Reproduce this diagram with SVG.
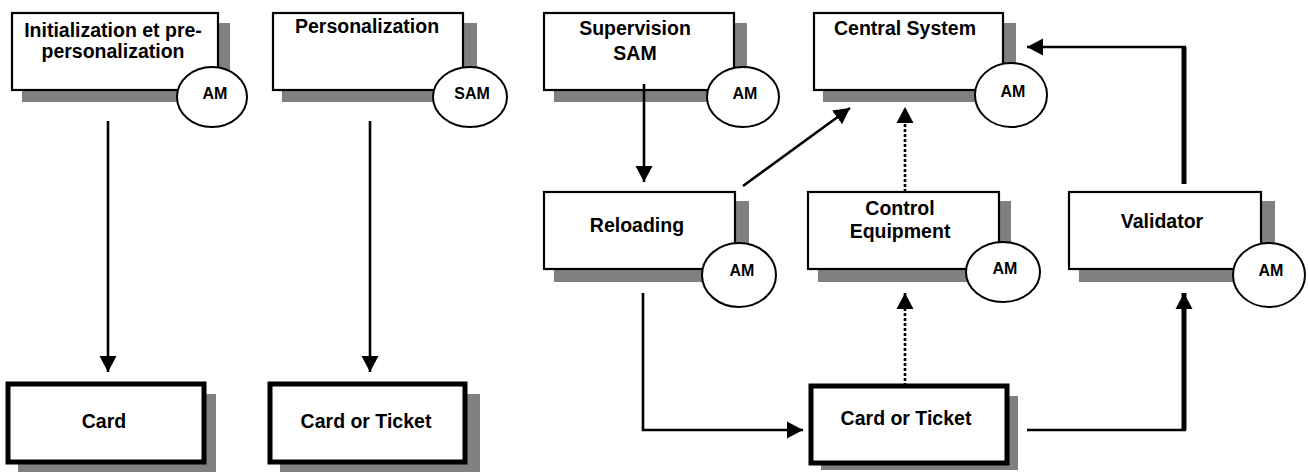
<svg xmlns="http://www.w3.org/2000/svg" width="1308" height="473" viewBox="0 0 1308 473">
<style>
.sh{fill:#808080;stroke:none}
.bx{fill:#fff;stroke:#000;stroke-width:2.2}
.bxt{fill:#fff;stroke:#000;stroke-width:5}
.am{fill:#fff;stroke:#000;stroke-width:2}
.t{font-family:"Liberation Sans",Arial,sans-serif;font-weight:bold;font-size:19.5px;fill:#000;text-anchor:middle}
.a{font-family:"Liberation Sans",Arial,sans-serif;font-weight:bold;font-size:16px;fill:#000;text-anchor:middle}
.c{fill:none;stroke:#000;stroke-width:2.6}
.ck{fill:none;stroke:#000;stroke-width:5}
.d{fill:none;stroke:#000;stroke-width:2.6;stroke-dasharray:3 2}
</style>
<defs>
<marker id="ah" markerUnits="userSpaceOnUse" markerWidth="17" markerHeight="18" refX="16" refY="8.5" orient="auto" viewBox="0 0 17 17">
<path d="M0,0 L16,8.5 L0,17 z" fill="#000"/>
</marker>
</defs>
<g id="n-init">
<rect class="sh" x="22" y="23" width="208" height="79"/>
<rect class="bx" x="12" y="13" width="206" height="77"/>
<text class="t" x="113" y="37">Initialization et pre-</text>
<text class="t" x="113" y="58">personalization</text>
<ellipse class="am" cx="212" cy="97" rx="35" ry="30"/>
<text class="a" x="215" y="99">AM</text>
</g>
<g id="n-perso">
<rect class="sh" x="282" y="23" width="195" height="79"/>
<rect class="bx" x="273" y="13" width="190" height="77"/>
<text class="t" x="367" y="33">Personalization</text>
<ellipse class="am" cx="470" cy="97" rx="37" ry="30"/>
<text class="a" x="472" y="99">SAM</text>
</g>
<g id="n-superv">
<rect class="sh" x="554" y="23" width="193" height="79"/>
<rect class="bx" x="544" y="13" width="190" height="77"/>
<text class="t" x="635" y="35">Supervision</text>
<text class="t" x="635" y="60">SAM</text>
<ellipse class="am" cx="743" cy="97" rx="36" ry="30"/>
<text class="a" x="745" y="99">AM</text>
</g>
<g id="n-central">
<rect class="sh" x="823" y="23" width="193" height="79"/>
<rect class="bx" x="814" y="13" width="189" height="77"/>
<text class="t" x="905" y="35">Central System</text>
<ellipse class="am" cx="1011" cy="95" rx="36" ry="32"/>
<text class="a" x="1013" y="97">AM</text>
</g>
<g id="n-reload">
<rect class="sh" x="554" y="201" width="195" height="81"/>
<rect class="bx" x="544" y="192" width="191" height="77"/>
<text class="t" x="637" y="232">Reloading</text>
<ellipse class="am" cx="739" cy="275" rx="37" ry="32"/>
<text class="a" x="742" y="276">AM</text>
</g>
<g id="n-control">
<rect class="sh" x="818" y="201" width="193" height="81"/>
<rect class="bx" x="808" y="192" width="191" height="77"/>
<text class="t" x="900" y="215">Control</text>
<text class="t" x="900" y="238">Equipment</text>
<ellipse class="am" cx="1003" cy="272" rx="37" ry="30"/>
<text class="a" x="1005" y="274">AM</text>
</g>
<g id="n-validator">
<rect class="sh" x="1079" y="201" width="196" height="81"/>
<rect class="bx" x="1069" y="192" width="192" height="77"/>
<text class="t" x="1162" y="228">Validator</text>
<ellipse class="am" cx="1269" cy="275" rx="36" ry="32"/>
<text class="a" x="1271" y="276">AM</text>
</g>
<g id="n-card">
<rect class="sh" x="18" y="394" width="198" height="78"/>
<rect class="bxt" x="8" y="384" width="196" height="78"/>
<text class="t" x="104" y="428">Card</text>
</g>
<g id="n-cardticket1">
<rect class="sh" x="280" y="394" width="200" height="78"/>
<rect class="bxt" x="270" y="384" width="195" height="78"/>
<text class="t" x="366" y="428">Card or Ticket</text>
</g>
<g id="n-cardticket2">
<rect class="sh" x="821" y="396" width="197" height="74"/>
<rect class="bxt" x="811" y="386" width="196" height="77"/>
<text class="t" x="906" y="425">Card or Ticket</text>
</g>
<g id="connectors">
<line class="c" x1="108" y1="121" x2="108" y2="372" marker-end="url(#ah)"/>
<line class="c" x1="370" y1="121" x2="370" y2="372" marker-end="url(#ah)"/>
<line class="c" x1="644" y1="84" x2="644" y2="182" marker-end="url(#ah)"/>
<line class="c" x1="743" y1="186" x2="850" y2="108" marker-end="url(#ah)"/>
<line class="d" x1="905" y1="192" x2="905" y2="107" marker-end="url(#ah)"/>
<line class="d" x1="905" y1="386" x2="905" y2="293" marker-end="url(#ah)"/>
<path class="c" d="M643,293 V430 H803" marker-end="url(#ah)"/>
<line class="c" x1="1027" y1="430" x2="1186" y2="430"/>
<line class="ck" x1="1184" y1="430" x2="1184" y2="293" marker-end="url(#ah)"/>
<line class="ck" x1="1184" y1="184" x2="1184" y2="47"/>
<line class="c" x1="1186" y1="47" x2="1027" y2="47" marker-end="url(#ah)"/>
</g>
</svg>
